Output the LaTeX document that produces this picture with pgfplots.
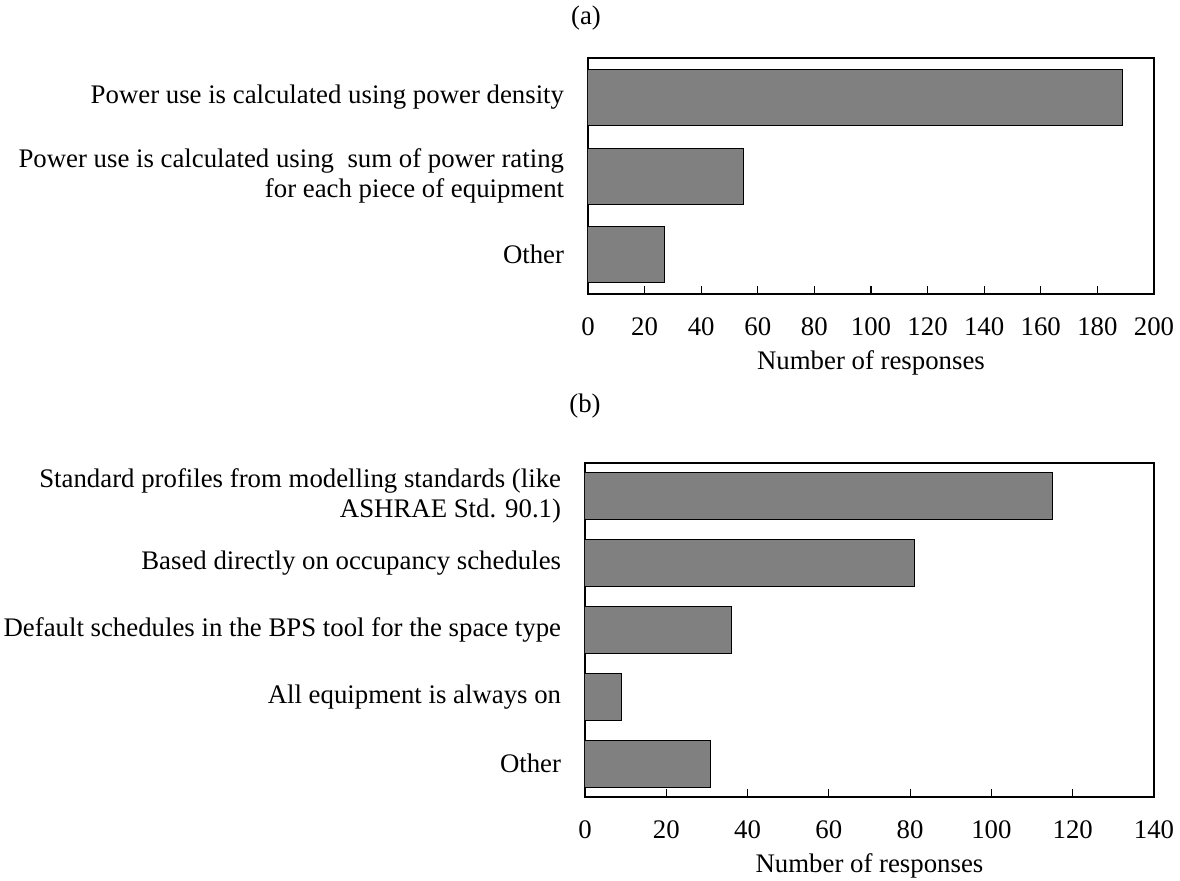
\documentclass[border=0pt]{standalone}
\usepackage{fontspec}
\setmainfont{Liberation Serif}
\usepackage{pgfplots}
\pgfplotsset{compat=1.18}
\pgfplotsset{
  mybars/.style={
    scale only axis,
    xbar,
    y dir=reverse,
    xmin=0,
    ytick=data,
    yticklabel style={align=right, xshift=-7.3pt},
    xticklabel style={yshift=-7.3pt},
    tick align=inside,
    xtick pos=left,
    ytick style={draw=none},
    xtick style={line width=0.6pt, black},
    major tick length=4pt,
    separate axis lines,
    axis line style={line width=1.2pt, line cap=rect},
    /pgf/number format/assume math mode=true,
    xlabel={Number of responses},
    xlabel style={at={(axis description cs:0.5,0)}, anchor=center, yshift=-34.5pt},
  }
}
\begin{document}
\fontsize{13.4}{15}\selectfont
\begin{tikzpicture}[font=\fontsize{13.4}{15}\selectfont]
\useasboundingbox (0pt,0pt) rectangle (590pt,-440.5pt);
\node at (293pt,-9pt) {(a)};
\node at (292.5pt,-203pt) {(b)};
\begin{axis}[mybars,
  at={(294pt,-147pt)}, anchor=south west,
  width=283pt, height=118pt,
  xmax=200, ymin=-0.5, ymax=2.5,
  xtick={0,20,...,200},
  bar width=28pt,
  yticklabels={{Power use is calculated using power density},
               {Power use is calculated using\ \ sum of power rating\\for each piece of equipment},
               {Other}},
]
\addplot[fill=gray, draw=black, line width=0.5pt] coordinates {(189,0) (55,1) (27,2)};
\end{axis}
\begin{axis}[mybars,
  at={(292.5pt,-398.5pt)}, anchor=south west,
  width=284.5pt, height=167pt,
  xmax=140, ymin=-0.5, ymax=4.5,
  xtick={0,20,...,140},
  bar width=23.5pt,
  yticklabels={{Standard profiles from modelling standards (like\\ASHRAE Std. 90.1)},
               {Based directly on occupancy schedules},
               {Default schedules in the BPS tool for the space type},
               {All equipment is always on},
               {Other}},
]
\addplot[fill=gray, draw=black, line width=0.5pt] coordinates {(115,0) (81,1) (36,2) (9,3) (31,4)};
\end{axis}
\end{tikzpicture}
\end{document}
